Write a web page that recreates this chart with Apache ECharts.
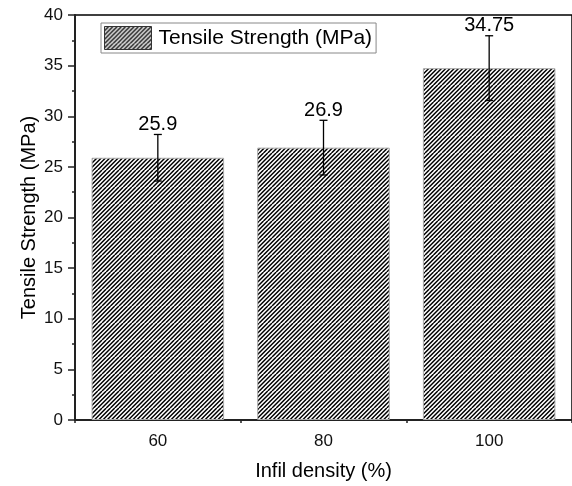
<!DOCTYPE html>
<html>
<head>
<meta charset="utf-8">
<script src="https://cdn.jsdelivr.net/npm/echarts@6/dist/echarts.min.js"></script>
<style>
html,body{margin:0;padding:0;background:#fff;}
#chart{width:572px;height:486px;}
</style>
</head>
<body>
<div id="chart"></div>
<script>
const categories = ['60', '80', '100'];
const strength = [25.9, 26.9, 34.75];
const strengthLabels = ['25.9', '26.9', '34.75'];
const errors = [2.3, 2.7, 3.2];
const seriesName = 'Tensile Strength (MPa)';
const xTitle = 'Infil density (%)';
const yTitle = 'Tensile Strength (MPa)';

const FONT = '"Liberation Sans", Arial, sans-serif';

function hatch() {
  const s = 17, step = 4.25;
  const c = document.createElement('canvas');
  c.width = s; c.height = s;
  const g = c.getContext('2d');
  g.fillStyle = '#fff';
  g.fillRect(0, 0, s, s);
  g.strokeStyle = '#000';
  g.lineWidth = 1.5;
  g.beginPath();
  for (let k = -s; k <= 2 * s; k += step) {
    g.moveTo(k, 0);
    g.lineTo(k - s, s);
  }
  g.stroke();
  return c;
}
const pattern = { image: hatch(), repeat: 'repeat' };

const chart = echarts.init(document.getElementById('chart'));
chart.setOption({
  animation: false,
  backgroundColor: '#fff',
  textStyle: { fontFamily: FONT },
  grid: {
    left: 75, top: 15, width: 502, height: 406,
    show: true, borderColor: '#000', borderWidth: 1.5, backgroundColor: 'transparent'
  },
  legend: {
    data: [seriesName],
    left: 101, top: 23,
    padding: [3, 4, 3, 3],
    itemWidth: 47, itemHeight: 23,
    icon: 'rect',
    borderColor: '#888', borderWidth: 1,
    itemStyle: { borderColor: '#333', borderWidth: 1 },
    textStyle: { fontSize: 21, color: '#000', fontFamily: FONT, padding: [0, 0, 0, 2] }
  },
  xAxis: [
    {
      type: 'category', data: categories, position: 'bottom',
      name: xTitle, nameLocation: 'middle', nameGap: 41, nameMoveOverlap: false,
      nameTextStyle: { fontSize: 20, color: '#000', fontFamily: FONT },
      axisLine: { lineStyle: { color: '#222', width: 2 } },
      axisTick: { alignWithLabel: true, length: 7, lineStyle: { color: '#222', width: 1.5 } },
      axisLabel: { fontSize: 17, color: '#111', margin: 13, fontFamily: FONT },
      splitLine: { show: false }
    },
    {
      type: 'category', data: categories, position: 'bottom',
      axisLine: { show: false },
      axisTick: { show: true, length: 3, lineStyle: { color: '#222', width: 1.5 } },
      axisLabel: { show: false },
      splitLine: { show: false }
    }
  ],
  yAxis: {
    type: 'value', min: 0, max: 40, interval: 5,
    name: yTitle, nameLocation: 'middle', nameGap: 36, nameMoveOverlap: false,
    nameTextStyle: { fontSize: 20, color: '#000', fontFamily: FONT },
    axisLine: { show: true, lineStyle: { color: '#222', width: 2 } },
    axisTick: { show: true, length: 7, lineStyle: { color: '#222', width: 1.5 } },
    minorTick: { show: true, splitNumber: 2, length: 3, lineStyle: { color: '#222', width: 1.5 } },
    axisLabel: { fontSize: 17, color: '#111', margin: 12, fontFamily: FONT },
    splitLine: { show: false }
  },
  series: [
    {
      name: seriesName, type: 'bar', data: strength,
      xAxisIndex: 0, barWidth: '80%',
      itemStyle: { color: pattern, borderColor: '#aaa', borderWidth: 1 }
    },
    {
      name: 'err', type: 'custom', xAxisIndex: 0, yAxisIndex: 0, z: 5,
      data: strength.map((v, i) => [i, v, errors[i]]),
      renderItem: function (params, api) {
        const i = api.value(0), v = api.value(1), e = api.value(2);
        const top = api.coord([i, v + e]);
        const bot = api.coord([i, v - e]);
        const hw = 4;
        const line = { stroke: '#000', lineWidth: 1.3 };
        return {
          type: 'group',
          children: [
            { type: 'line', shape: { x1: top[0], y1: top[1], x2: bot[0], y2: bot[1] }, style: line },
            { type: 'line', shape: { x1: top[0] - hw, y1: top[1], x2: top[0] + hw, y2: top[1] }, style: line },
            { type: 'line', shape: { x1: bot[0] - hw, y1: bot[1], x2: bot[0] + hw, y2: bot[1] }, style: line },
            { type: 'text', style: {
                text: strengthLabels[params.dataIndex], x: top[0], y: top[1] - 10,
                align: 'center', verticalAlign: 'middle',
                fontSize: 20, fontFamily: FONT, fill: '#000'
              } }
          ]
        };
      }
    }
  ]
});
</script>
</body>
</html>
